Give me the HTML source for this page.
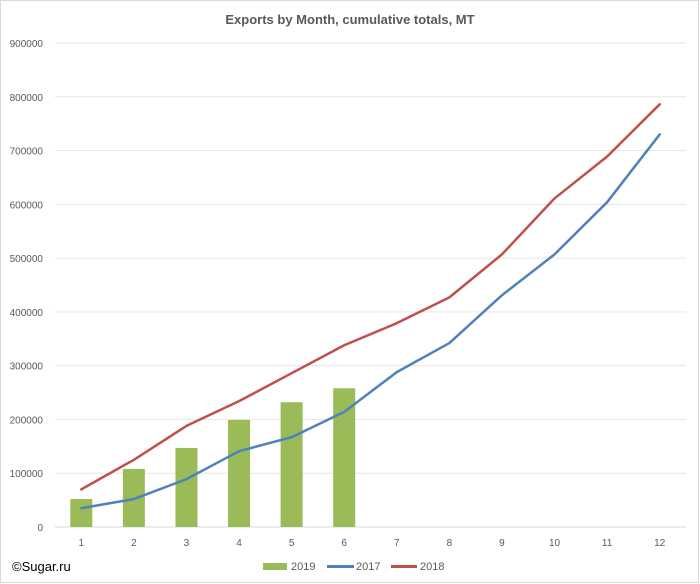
<!DOCTYPE html>
<html><head><meta charset="utf-8"><style>
body{margin:0;background:#fff;}
svg{display:block;font-family:"Liberation Sans",Calibri,sans-serif;}
</style></head><body>
<svg id="chart" width="700" height="584">
<rect x="0.5" y="0.5" width="698" height="582" fill="#fff" stroke="#d9d9d9"/>
<text x="350" y="24" text-anchor="middle" font-size="13" font-weight="bold" fill="#595959">Exports by Month, cumulative totals, MT</text>
<g id="grid"></g><g id="bars"></g><g id="lines"></g><g id="xlabels"></g>
<text x="12" y="571" font-size="13" fill="#000">©Sugar.ru</text>
<g>
<rect x="263" y="563" width="24" height="7" fill="#9bbb59"/>
<text x="291" y="570" font-size="11" fill="#595959">2019</text>
<line x1="327" y1="566.5" x2="354" y2="566.5" stroke="#4f81bd" stroke-width="3"/>
<text x="356" y="570" font-size="11" fill="#595959">2017</text>
<line x1="391" y1="566.5" x2="417" y2="566.5" stroke="#c0504d" stroke-width="3"/>
<text x="420" y="570" font-size="11" fill="#595959">2018</text>
</g>
</svg>
<script>
const months=[1,2,3,4,5,6,7,8,9,10,11,12];
const s2019=[52000,108000,147000,199000,232000,258000];
const s2017=[35000,52000,89000,141000,167000,214000,288000,342000,431000,507000,604000,730000];
const s2018=[70000,125000,188000,234000,286000,338000,379000,427000,507000,611000,689000,786000];
const yTicks=[0,100000,200000,300000,400000,500000,600000,700000,800000,900000];
const NS="http://www.w3.org/2000/svg";
const L=55,R=686,Y0=527,Y1=43,YMAX=900000;
const step=(R-L)/months.length;
const x=i=>L+step*(i+0.5);
const y=v=>Y0-(v/YMAX)*(Y0-Y1);
function mk(t,a,p){const e=document.createElementNS(NS,t);for(const k in a)e.setAttribute(k,a[k]);p.appendChild(e);return e;}
const grid=document.getElementById('grid');
yTicks.forEach(v=>{
 const ln=mk('line',{x1:L,x2:R,y1:y(v),y2:y(v),stroke:v===0?'#d9d9d9':'#e6e6e6','stroke-width':1},grid);
 
 
 const t=mk('text',{x:43,y:y(v)+4,'text-anchor':'end','font-size':10,fill:'#595959'},grid);
 t.textContent=v;
 
 
});
const xl=document.getElementById('xlabels');
months.forEach((m,i)=>{
 const t=mk('text',{x:x(i),y:546,'text-anchor':'middle','font-size':10,fill:'#595959'},xl);
 t.textContent=m;
 
 
});
const bars=document.getElementById('bars');
const bw=22;
s2019.forEach((v,i)=>{
 const r=mk('rect',{x:x(i)-bw/2,y:y(v),width:bw,height:Y0-y(v),fill:'#9bbb59'},bars);
 
 
});
const lines=document.getElementById('lines');
[[s2017,'#4f81bd','line-2017'],[s2018,'#c0504d','line-2018']].forEach(([d,c,n])=>{
 const p=mk('polyline',{points:d.map((v,i)=>x(i)+','+y(v)).join(' '),fill:'none',stroke:c,'stroke-width':2.5,'stroke-linejoin':'round','stroke-linecap':'round'},lines);
 
 
});
</script>
</body></html>
